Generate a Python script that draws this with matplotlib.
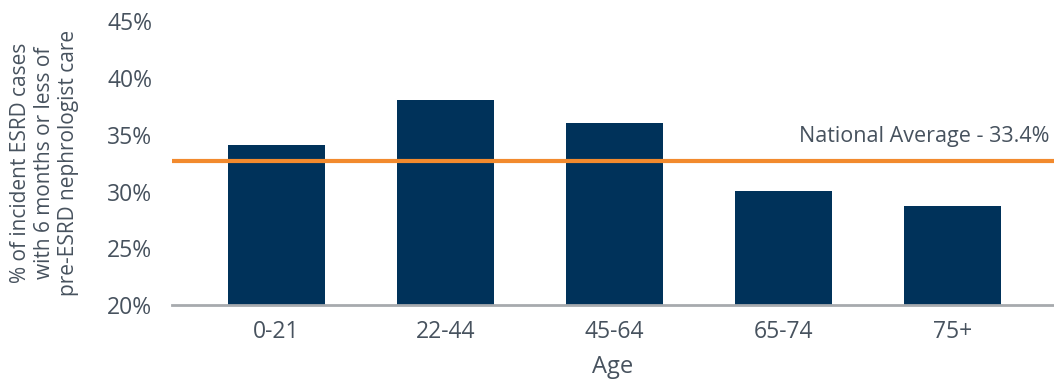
import matplotlib.pyplot as plt

# data
age_groups = ["0-21", "22-44", "45-64", "65-74", "75+"]
pct_late_care = [34.1, 38.1, 36.0, 30.05, 28.7]
national_avg_line = 32.7          # where the line sits on the chart
national_avg_label = "National Average - 33.4%"
y_ticks = [20, 25, 30, 35, 40, 45]

bar_color = "#00325A"
avg_color = "#F28A2E"
text_color = "#47525E"
axis_color = "#A7AAAE"

plt.rcParams["font.family"] = ["Open Sans", "DejaVu Sans"]

fig = plt.figure(figsize=(10.54, 3.83), dpi=100)
ax = fig.add_axes([0.163, 0.204, 0.837, 0.740])

x = range(len(age_groups))
ax.bar(x, [v - 20 for v in pct_late_care], bottom=20, width=0.57,
       color=bar_color, zorder=2)

ax.axhline(national_avg_line, color=avg_color, lw=3, zorder=3)
ax.text(0.995, national_avg_line + 1.2, national_avg_label,
        transform=ax.get_yaxis_transform(), ha="right", va="bottom",
        fontsize=15.5, color=text_color)

ax.set_xlim(-0.62, 4.6)
ax.set_ylim(20, 45)
ax.set_xticks(list(x))
ax.set_xticklabels(age_groups)
ax.set_yticks(y_ticks)
ax.set_yticklabels([f"{t}%" for t in y_ticks])
ax.tick_params(axis="both", length=0, labelsize=16.5, colors=text_color)
ax.tick_params(axis="y", pad=14)
ax.tick_params(axis="x", pad=11)

for side in ["top", "right", "left"]:
    ax.spines[side].set_visible(False)
ax.spines["bottom"].set_color(axis_color)
ax.spines["bottom"].set_linewidth(2)
ax.spines["bottom"].set_zorder(4)

ax.set_xlabel("Age", fontsize=17, color=text_color, labelpad=8)
ax.set_ylabel("% of incident ESRD cases\nwith 6 months or less of\npre-ESRD nephrologist care",
              fontsize=15, color=text_color, labelpad=20, linespacing=1.2)

plt.savefig("out.png", dpi=100)
